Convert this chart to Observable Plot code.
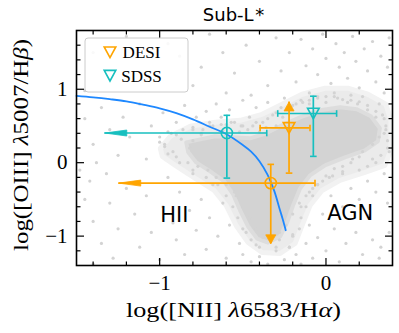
<!DOCTYPE html>
<html><head><meta charset="utf-8">
<script src="https://cdn.jsdelivr.net/npm/d3@7"></script>
<script src="https://cdn.jsdelivr.net/npm/@observablehq/plot@0.6"></script>
<style>
body{margin:0;background:#fff;width:399px;height:333px;overflow:hidden}
#title svg,#chart svg{display:block}
</style></head><body>
<div id="title"></div>
<div id="chart"></div>
<script>
// ---------------- data ----------------
const titleMain = "Sub-L", titleSup = "*";
const xLabelParts = [["log([NII] ", false], ["λ", true], ["6583/H", false], ["α", true], [")", false]];
const yLabelParts = [["log([OIII] ", false], ["λ", true], ["5007/H", false], ["β", true], [")", false]];
const regionLabels = ["HII", "AGN"];
const legendNames = ["DESI", "SDSS"];

const xMajor = [-1, 0], xTickLabels = ["−1", "0"];
const yMajor = [-1, 0, 1], yTickLabels = ["−1", "0", "1"];
const xMinor = [-1.4, -1.2, -0.8, -0.6, -0.4, -0.2, 0.2];
const yMinor = [-1.2, -0.8, -0.6, -0.4, -0.2, 0.2, 0.4, 0.6, 0.8, 1.2, 1.4, 1.6];

// demarcation curve
const curveX = [-1.50,-1.40,-1.30,-1.20,-1.10,-1.00,-0.90,-0.80,-0.70,-0.60,-0.50,-0.45,-0.40,-0.35,-0.31,-0.28,-0.26,-0.242];
const curveY = [0.91,0.89,0.865,0.835,0.79,0.74,0.675,0.59,0.49,0.39,0.24,0.15,0.02,-0.17,-0.39,-0.62,-0.77,-0.92];

// DESI measurements
const desiX = [-0.222, -0.332], desiY = [0.473, -0.278];
const desiMarker = ["triangle", "circle"];
const desiXlo = [-0.396, -1.246], desiXhi = [-0.096, -0.066];
const desiYlo = [-0.142, -1.105], desiYhi = [0.827, -0.023];
const desiXloLimit = [false, true], desiYloLimit = [false, true], desiYhiLimit = [true, false];

// SDSS measurements
const sdssX = [-0.076, -0.596], sdssY = [0.67, 0.404];
const sdssMarker = ["triangle", "circle"];
const sdssXlo = [-0.29, -1.33], sdssXhi = [0.064, -0.356];
const sdssYlo = [0.086, -0.21], sdssYhi = [0.905, 0.645];
const sdssXloLimit = [false, true], sdssYloLimit = [false, false], sdssYhiLimit = [false, false];

// dense core of the background sample (outline)
const coreX = [-0.840,-0.756,-0.666,-0.564,-0.456,-0.360,-0.264,-0.156,-0.036,0.084,0.186,0.270,0.324,0.312,0.234,0.114,-0.006,-0.096,-0.156,-0.198,-0.234,-0.276,-0.348,-0.414,-0.468,-0.516,-0.558,-0.612,-0.696,-0.780,-0.828];
const coreY = [0.277,0.318,0.359,0.345,0.332,0.400,0.509,0.618,0.714,0.754,0.727,0.632,0.468,0.291,0.168,0.072,-0.037,-0.173,-0.351,-0.583,-0.814,-1.005,-1.087,-1.033,-0.869,-0.651,-0.433,-0.256,-0.119,0.004,0.141];
// medium-density envelope
const haloX = [-0.996,-0.936,-0.816,-0.666,-0.516,-0.384,-0.264,-0.144,-0.006,0.132,0.252,0.360,0.390,0.390,0.354,0.234,0.084,-0.024,-0.096,-0.144,-0.186,-0.276,-0.384,-0.468,-0.540,-0.600,-0.672,-0.786,-0.906,-0.984];
const haloY = [0.195,0.359,0.495,0.550,0.577,0.659,0.795,0.932,1.014,1.014,0.932,0.795,0.577,0.168,-0.037,-0.132,-0.241,-0.378,-0.583,-0.855,-1.101,-1.237,-1.224,-1.087,-0.855,-0.583,-0.378,-0.214,-0.037,0.086];

// individual background galaxies
const grayPts = [
[-1.2,1.72],[-0.95,1.62],[-0.7,1.75],[-0.62,1.5],[-0.55,1.22],[-0.48,1.6],[-0.4,1.38],[-0.35,1.05],[-0.3,1.7],[-0.27,1.25],[-0.22,1.5],[-0.18,1.1],[-0.15,1.68],[-0.12,1.32],[-0.08,1.55],[-0.05,1.2],[-0.02,1.75],[0.0,1.42],[0.03,1.08],[0.06,1.62],[0.08,1.3],[0.11,1.5],[0.13,1.15],[0.16,1.72],[0.18,1.38],[0.2,1.02],[0.23,1.55],[0.25,1.25],[0.28,1.65],[0.3,1.1],[0.33,1.45],[0.35,0.95],[0.37,1.3],[0.38,1.7],[-0.75,1.3],[-0.8,1.05],[-0.6,0.95],[-0.45,0.92],[-0.25,0.88],[-0.1,0.95],[0.05,0.9],[0.15,0.85],[0.22,0.9],[0.32,0.8],[-1.05,1.55],[-0.88,1.45],[-1.45,0.98],[-1.4,1.5],
[-1.45,0.6],[-1.4,0.25],[-1.35,0.75],[-1.3,0.45],[-1.25,0.1],[-1.22,0.62],[-1.18,0.35],[-1.12,0.8],[-1.08,0.05],[-1.05,0.5],[-1.0,0.28],[-0.98,0.68],[-0.95,0.42],[-0.92,0.15],[-0.9,0.55],[-0.87,0.32],[-0.85,0.78],[-0.82,0.2],[-0.8,0.48],[-0.78,0.62],[-0.75,0.38],[-0.72,0.7],[-0.7,0.55],[-0.66,0.8],[-0.63,0.62],[-0.58,0.72],[-0.55,0.55],[-0.5,0.85],[-0.46,0.62],[-0.42,0.75],[-0.38,0.55],[-0.35,0.82],[-0.32,0.65],[-1.48,-0.1],[-1.42,-0.25],[-1.38,0.0],[-1.32,-0.15],
[-1.45,-0.5],[-1.4,-0.8],[-1.35,-1.1],[-1.3,-0.55],[-1.28,-1.3],[-1.25,-0.9],[-1.2,-0.35],[-1.15,-0.7],[-1.12,-1.15],[-1.08,-0.45],[-1.05,-0.95],[-1.0,-1.32],[-0.98,-0.6],[-0.95,-0.2],[-0.92,-0.82],[-0.9,-1.05],[-0.88,-0.4],[-0.85,-1.25],[-0.82,-0.65],[-0.8,-0.15],[-0.78,-0.92],[-0.75,-0.5],[-0.72,-1.18],[-0.7,-0.75],[-0.68,-0.3],[-0.65,-1.0],[-0.62,-0.55],[-0.6,-1.3],[-0.58,-0.85],[-0.55,-0.4],[-0.52,-1.1],[-1.4,-1.38],
[-0.5,-1.25],[-0.48,-0.95],[-0.45,-1.35],[-0.42,-1.12],[-0.4,-1.28],[-0.38,-1.0],[-0.35,-1.38],[-0.3,-1.2],[-0.28,-1.05],[-0.25,-1.32],[-0.22,-1.15],[-0.2,-0.98],[-0.18,-1.25],[-0.15,-1.38],[-0.12,-1.1],[-0.1,-0.85],
[-0.08,-1.3],[-0.05,-1.02],[-0.02,-0.7],[0.0,-1.2],[0.03,-0.45],[0.05,-0.9],[0.08,-1.35],[0.1,-0.6],[0.12,-1.1],[0.15,-0.35],[0.18,-0.95],[0.2,-0.5],[0.22,-1.25],[0.25,-0.25],[0.28,-1.05],[0.3,-0.4],[0.32,-1.3],[0.35,-0.15],[0.37,-0.55],[0.38,-0.95],[0.26,-0.72],[0.33,-1.15],[-0.15,-0.6],[-0.1,-0.4],[-0.05,-0.3],[0.02,-0.2],[0.1,-0.15],[0.2,-0.1],[0.3,0.0],[0.38,0.15],[0.36,0.5],[0.34,0.65],
[-1.0,0.35],[-0.97,0.22],[-0.93,0.4],[-0.9,0.08],[-0.86,0.45],[-0.83,0.0],[-0.8,0.3],[-0.77,-0.05],[-0.74,0.45],[-0.71,-0.1],[-0.68,0.5],[-0.66,-0.2],[-0.63,0.52],[-0.6,-0.3],[-0.57,0.55],[-0.54,-0.45],[-0.51,0.5],[-0.5,-0.6],[-0.47,0.45],[-0.46,-0.75],[-0.44,0.5],[-0.42,-0.9],[-0.4,0.42],[-0.38,-1.02],[-0.36,0.48],[-0.33,-1.05],[-0.3,0.5],[-0.28,-0.95],[-0.26,0.62],[-0.24,-0.85],[-0.22,0.72],[-0.2,-0.7],[-0.18,0.8],[-0.16,-0.55],[-0.14,0.82],[-0.12,-0.45],[-0.1,0.85],[-0.08,-0.35],[-0.05,0.88],[-0.02,-0.25],[0.0,0.9],[0.04,-0.18],[0.07,0.88],[0.1,-0.05],[0.13,0.82],[0.16,0.05],[0.19,0.8],[0.22,0.15],[0.25,0.72],[0.28,0.25],[0.3,0.62],[0.32,0.35],[0.35,0.4],[0.37,0.3],
[-0.2,0.78],[-0.15,0.85],[-0.1,0.8],[-0.05,0.9],[0.0,0.82],[0.05,0.95],[0.1,0.86],[0.15,0.92],[0.2,0.83],[0.25,0.78],[0.3,0.7],[0.35,0.6],[0.36,0.45],[0.37,0.2],[0.33,0.1],[0.28,0.05],[0.2,0.08],[0.25,-0.05],[0.15,0.0],[0.1,-0.12],[0.05,-0.08],[0.0,-0.18],[-0.05,-0.3],[-0.08,-0.45],[-0.12,-0.6],[-0.15,-0.75],[-0.16,-0.9],[-0.2,-1.0],[-0.22,-1.15],[-0.3,-1.15],[-0.4,-1.15],[-0.45,-1.05],[-0.5,-0.9],[-0.53,-0.75],[-0.56,-0.6],[-0.6,-0.45],[-0.65,-0.3],[-0.72,-0.2],[-0.8,-0.1],[-0.88,0.0],[-0.95,0.12],[-0.97,0.25],[-0.9,0.38],[-0.8,0.45],[-0.7,0.5],[-0.6,0.52],[-0.5,0.5],[-0.42,0.55],[-0.35,0.6],[-0.3,0.68],[-0.27,0.75],[-0.62,0.44],[-0.75,0.4],[-0.52,0.42]
];

// ---------------- styling & build ----------------
const ORANGE = "#ffa500", CYAN = "#17bfbf", BLUE = "#1e88ff", GRAY = "#d3d3d3", HALO = "#ebebeb";
const survey = (name, color, X, Y, M, XL, XH, YL, YH, XLL, YLL, YHL) =>
  X.map((x, i) => ({name, color, x, y: Y[i], marker: M[i], xlo: XL[i], xhi: XH[i], ylo: YL[i], yhi: YH[i],
    xloLim: XLL[i], yloLim: YLL[i], yhiLim: YHL[i]}));
const rows = [
  ...survey("DESI", ORANGE, desiX, desiY, desiMarker, desiXlo, desiXhi, desiYlo, desiYhi, desiXloLimit, desiYloLimit, desiYhiLimit),
  ...survey("SDSS", CYAN, sdssX, sdssY, sdssMarker, sdssXlo, sdssXhi, sdssYlo, sdssYhi, sdssXloLimit, sdssYloLimit, sdssYhiLimit)
];
const curve = curveX.map((x, i) => ({x, y: curveY[i]}));
const core = coreX.map((x, i) => ({x, y: coreY[i]}));
const halo = haloX.map((x, i) => ({x, y: haloY[i]}));
const gray = grayPts.map(([x, y]) => ({x, y}));

const sym = f => ({draw: f});
const tickSym = (dx, dy) => sym(c => { c.moveTo(0, 0); c.lineTo(dx, dy); });
const capV = sym(c => { c.moveTo(0, -3.3); c.lineTo(0, 3.3); });
const capH = sym(c => { c.moveTo(-3.3, 0); c.lineTo(3.3, 0); });
const headLeft = sym(c => { c.moveTo(0, 0); c.lineTo(22, -3); c.lineTo(22, 3); c.closePath(); });
const headDown = sym(c => { c.moveTo(0, 0); c.lineTo(-5, -9); c.lineTo(5, -9); c.closePath(); });
const headUp = sym(c => { c.moveTo(0, 0); c.lineTo(-5, 9); c.lineTo(5, 9); c.closePath(); });
const triDown = sym(c => { c.moveTo(0, 5.3); c.lineTo(-5.8, -5.3); c.lineTo(5.8, -5.3); c.closePath(); });

const capsV = rows.flatMap(r => [...(r.xloLim ? [] : [{x: r.xlo, y: r.y, color: r.color}]), {x: r.xhi, y: r.y, color: r.color}]);
const capsH = rows.flatMap(r => [...(r.yloLim ? [] : [{x: r.x, y: r.ylo, color: r.color}]), ...(r.yhiLim ? [] : [{x: r.x, y: r.yhi, color: r.color}])]);
const hLeft = rows.filter(r => r.xloLim).map(r => ({x: r.xlo, y: r.y, color: r.color}));
const hDown = rows.filter(r => r.yloLim).map(r => ({x: r.x, y: r.ylo, color: r.color}));
const hUp = rows.filter(r => r.yhiLim).map(r => ({x: r.x, y: r.yhi, color: r.color}));

const XD = [-1.5, 0.4], YD = [-1.4, 1.8];
const tickOpts = {stroke: "black", fill: "none", strokeWidth: 1.2};

const plot = Plot.plot({
  width: 399, height: 305,
  marginTop: 2, marginBottom: 68, marginLeft: 76, marginRight: 7,
  x: {domain: XD}, y: {domain: YD},
  color: {type: "identity"},
  style: {fontFamily: "'Liberation Serif', serif", fontSize: "21px", background: "white", color: "black"},
  marks: [
    Plot.line(halo, {x: "x", y: "y", fill: HALO, stroke: "#f2f2f2", strokeWidth: 5, curve: "linear-closed"}),
    Plot.line(core, {x: "x", y: "y", fill: GRAY, stroke: "#dddddd", strokeWidth: 4, curve: "linear-closed"}),
    Plot.dot(gray, {x: "x", y: "y", r: 1.6, fill: GRAY, stroke: "none"}),
    Plot.line(curve, {x: "x", y: "y", stroke: BLUE, strokeWidth: 1.8, curve: "catmull-rom"}),
    Plot.ruleY(rows, {y: "y", x1: "xlo", x2: "xhi", stroke: "color", strokeWidth: 1.7}),
    Plot.ruleX(rows, {x: "x", y1: "ylo", y2: "yhi", stroke: "color", strokeWidth: 1.7}),
    Plot.dot(capsV, {x: "x", y: "y", symbol: capV, stroke: "color", fill: "none", strokeWidth: 1.6}),
    Plot.dot(capsH, {x: "x", y: "y", symbol: capH, stroke: "color", fill: "none", strokeWidth: 1.6}),
    Plot.dot(hLeft, {x: "x", y: "y", symbol: headLeft, fill: "color", stroke: "color", strokeWidth: 0.8}),
    Plot.dot(hDown, {x: "x", y: "y", symbol: headDown, fill: "color", stroke: "color", strokeWidth: 0.8}),
    Plot.dot(hUp, {x: "x", y: "y", symbol: headUp, fill: "color", stroke: "color", strokeWidth: 0.8}),
    Plot.dot(rows.filter(r => r.marker === "circle"), {x: "x", y: "y", r: 5.6, symbol: "circle", stroke: "color", fill: "none", strokeWidth: 1.6}),
    Plot.dot(rows.filter(r => r.marker === "triangle"), {x: "x", y: "y", symbol: triDown, stroke: "color", fill: "none", strokeWidth: 1.6}),
    Plot.text([regionLabels[0]], {x: -0.996, y: -0.712, text: d => d, textAnchor: "start", fontSize: 21, fontFamily: "'DejaVu Sans', sans-serif", fill: "black"}),
    Plot.text([regionLabels[1]], {x: 0.008, y: -0.692, text: d => d, textAnchor: "start", fontSize: 21, fontFamily: "'DejaVu Sans', sans-serif", fill: "black"}),
    // inward ticks on all four sides
    Plot.dot(xMajor, {x: d => d, y: () => YD[0], symbol: tickSym(0, -7.5), ...tickOpts}),
    Plot.dot(xMajor, {x: d => d, y: () => YD[1], symbol: tickSym(0, 7.5), ...tickOpts}),
    Plot.dot(xMinor, {x: d => d, y: () => YD[0], symbol: tickSym(0, -4), ...tickOpts}),
    Plot.dot(xMinor, {x: d => d, y: () => YD[1], symbol: tickSym(0, 4), ...tickOpts}),
    Plot.dot(yMajor, {y: d => d, x: () => XD[0], symbol: tickSym(7.5, 0), ...tickOpts}),
    Plot.dot(yMajor, {y: d => d, x: () => XD[1], symbol: tickSym(-7.5, 0), ...tickOpts}),
    Plot.dot(yMinor, {y: d => d, x: () => XD[0], symbol: tickSym(4, 0), ...tickOpts}),
    Plot.dot(yMinor, {y: d => d, x: () => XD[1], symbol: tickSym(-4, 0), ...tickOpts}),
    Plot.axisX({ticks: xMajor, tickSize: 0, tickPadding: 10, label: null, tickFormat: d => xTickLabels[xMajor.indexOf(d)], fontSize: 21}),
    Plot.axisY({ticks: yMajor, tickSize: 0, tickPadding: 9, label: null, tickFormat: d => yTickLabels[yMajor.indexOf(d)], fontSize: 21}),
    Plot.frame({stroke: "black", strokeWidth: 1.6})
  ]
});
document.getElementById("chart").append(plot);
const svg = d3.select(plot);

// axis labels (math-style)
function mathText(parent, parts, attrs) {
  const t = parent.append("text");
  for (const [k, v] of Object.entries(attrs)) t.attr(k, v);
  for (const [s, it] of parts) t.append("tspan").attr("font-style", it ? "italic" : null).text(s);
  return t;
}
mathText(svg, xLabelParts, {x: 233.5, y: 288.5, "text-anchor": "middle", "font-family": "'Liberation Serif', serif",
  "font-size": 20, fill: "black", textLength: 215, lengthAdjust: "spacingAndGlyphs"});
mathText(svg, yLabelParts, {transform: "translate(28,117) rotate(-90)", x: 0, y: 0, "text-anchor": "middle",
  "font-family": "'Liberation Serif', serif", "font-size": 20, fill: "black", textLength: 212, lengthAdjust: "spacingAndGlyphs"});

// legend
const lg = svg.append("g");
lg.append("rect").attr("x", 85).attr("y", 10).attr("width", 103).attr("height", 54).attr("rx", 3)
  .attr("fill", "white").attr("fill-opacity", 0.85).attr("stroke", "#cccccc").attr("stroke-width", 1);
[[ORANGE, 24.3], [CYAN, 47.7]].forEach(([c, y], i) => {
  lg.append("path").attr("d", "M0,5.3L-5.8,-5.3L5.8,-5.3Z").attr("transform", `translate(110,${y})`)
    .attr("fill", "none").attr("stroke", c).attr("stroke-width", 1.6);
  lg.append("text").attr("x", 141.5).attr("y", y + 6).attr("font-family", "'Liberation Serif', serif")
    .attr("font-size", 17).attr("fill", "black").text(legendNames[i]);
});

// title
const ts = d3.select("#title").append("svg").attr("width", 399).attr("height", 28);
const tt = ts.append("text").attr("x", 233.5).attr("y", 21).attr("text-anchor", "middle")
  .attr("font-family", "'DejaVu Sans', sans-serif").attr("font-size", 18).attr("fill", "black");
tt.append("tspan").text(titleMain);
tt.append("tspan").attr("dx", 1.5).text(titleSup);
</script>
</body></html>
